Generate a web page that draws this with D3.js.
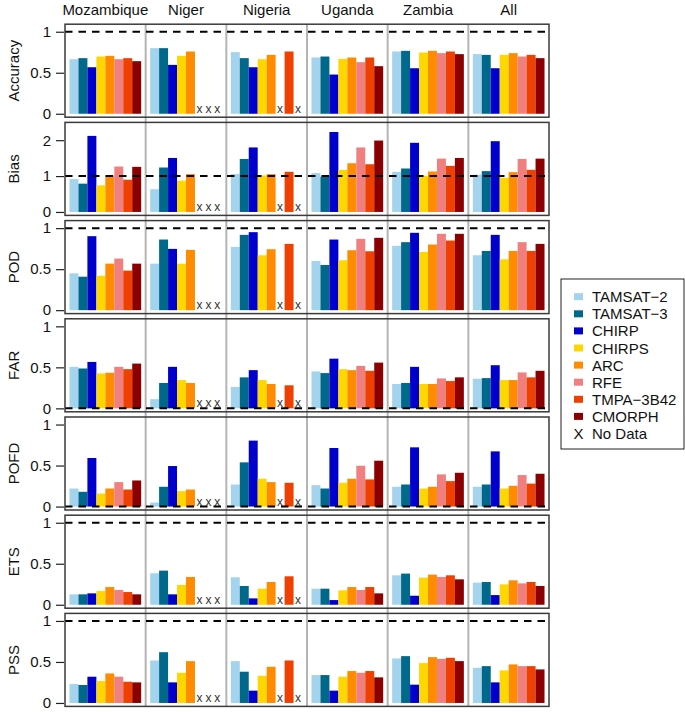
<!DOCTYPE html>
<html>
<head>
<meta charset="utf-8">
<script src="https://cdn.jsdelivr.net/npm/d3@7"></script>
<style>
  html, body { margin: 0; padding: 0; background: #fff; }
  text { font-family: "Liberation Sans", Arial, Helvetica, sans-serif; }
</style>
</head>
<body>
<svg id="chart" width="685" height="714"></svg>
<script>
// ---------------- data ----------------
const countries = ["Mozambique", "Niger", "Nigeria", "Uganda", "Zambia", "All"];
const products = ["TAMSAT−2", "TAMSAT−3", "CHIRP", "CHIRPS", "ARC", "RFE", "TMPA−3B42", "CMORPH"];
const colors = ["#A4D3EE", "#00688B", "#0000CD", "#FFD700", "#FF8C00", "#F08080", "#EE4000", "#8B0000"];
const metrics = ["Accuracy", "Bias", "POD", "FAR", "POFD", "ETS", "PSS"];
const refLines = [1, 1, 1, 0, 0, 1, 1];
const ticksUnit = [0, 0.5, 1];
const ticksBias = [0, 1, 2];

// values per country (rows) x product (cols); null = no data
const accuracy = [
  [0.665, 0.678, 0.567, 0.698, 0.706, 0.665, 0.678, 0.641],
  [0.80, 0.80, 0.596, 0.706, 0.759, null, null, null],
  [0.751, 0.678, 0.567, 0.665, 0.718, null, 0.759, null],
  [0.686, 0.698, 0.478, 0.669, 0.686, 0.629, 0.686, 0.58],
  [0.759, 0.767, 0.555, 0.747, 0.767, 0.739, 0.759, 0.727],
  [0.727, 0.718, 0.555, 0.718, 0.739, 0.698, 0.718, 0.678]
];
const bias = [
  [0.917, 0.789, 2.12, 0.743, 1.018, 1.266, 0.899, 1.257],
  [0.633, 1.239, 1.505, 0.872, 1.055, null, null, null],
  [1.055, 1.477, 1.798, 1.018, 1.055, null, 1.119, null],
  [1.083, 0.982, 2.229, 1.174, 1.358, 1.798, 1.33, 1.99],
  [1.119, 1.211, 1.927, 1.009, 1.128, 1.486, 1.284, 1.505],
  [1.037, 1.138, 1.972, 0.954, 1.11, 1.477, 1.174, 1.486]
];
const pod = [
  [0.449, 0.408, 0.902, 0.42, 0.567, 0.629, 0.482, 0.567],
  [0.567, 0.861, 0.747, 0.567, 0.735, null, null, null],
  [0.771, 0.918, 0.951, 0.669, 0.743, null, 0.808, null],
  [0.60, 0.551, 0.861, 0.608, 0.731, 0.869, 0.718, 0.882],
  [0.784, 0.829, 0.943, 0.71, 0.80, 0.931, 0.849, 0.931],
  [0.669, 0.722, 0.918, 0.62, 0.722, 0.829, 0.722, 0.808]
];
const far = [
  [0.506, 0.486, 0.566, 0.426, 0.434, 0.506, 0.478, 0.546],
  [0.112, 0.309, 0.506, 0.345, 0.309, null, null, null],
  [0.261, 0.378, 0.466, 0.345, 0.297, null, 0.281, null],
  [0.45, 0.43, 0.606, 0.478, 0.466, 0.518, 0.458, 0.558],
  [0.297, 0.309, 0.506, 0.297, 0.297, 0.365, 0.333, 0.378],
  [0.361, 0.369, 0.526, 0.345, 0.345, 0.438, 0.378, 0.458]
];
const pofd = [
  [0.22, 0.18, 0.592, 0.159, 0.22, 0.298, 0.208, 0.318],
  [0.049, 0.241, 0.494, 0.188, 0.208, null, null, null],
  [0.269, 0.539, 0.804, 0.339, 0.298, null, 0.29, null],
  [0.261, 0.22, 0.714, 0.29, 0.339, 0.498, 0.331, 0.559],
  [0.241, 0.269, 0.722, 0.22, 0.241, 0.392, 0.31, 0.412],
  [0.241, 0.269, 0.673, 0.22, 0.253, 0.384, 0.28, 0.40]
];
const ets = [
  [0.127, 0.127, 0.139, 0.167, 0.216, 0.18, 0.155, 0.127],
  [0.384, 0.416, 0.127, 0.241, 0.339, null, null, null],
  [0.335, 0.229, 0.078, 0.196, 0.278, null, 0.347, null],
  [0.196, 0.196, 0.057, 0.176, 0.216, 0.18, 0.216, 0.139],
  [0.359, 0.38, 0.11, 0.331, 0.367, 0.339, 0.359, 0.31],
  [0.269, 0.278, 0.118, 0.249, 0.298, 0.261, 0.278, 0.229]
];
const pss = [
  [0.231, 0.219, 0.32, 0.267, 0.36, 0.32, 0.259, 0.251],
  [0.518, 0.619, 0.251, 0.368, 0.51, null, null, null],
  [0.51, 0.381, 0.15, 0.332, 0.441, null, 0.518, null],
  [0.34, 0.34, 0.15, 0.32, 0.389, 0.368, 0.389, 0.312],
  [0.543, 0.571, 0.223, 0.486, 0.559, 0.538, 0.551, 0.51],
  [0.429, 0.449, 0.251, 0.397, 0.47, 0.449, 0.449, 0.409]
];
const metricData = [accuracy, bias, pod, far, pofd, ets, pss];

// ---------------- layout ----------------
const svg = d3.select("#chart");
const left = 65, right = 549;
const top0 = 24.2, rowStep = 98.2, panelH = 93;

const x0 = d3.scaleBand().domain(countries).range([left, right]).padding(0);
const x1 = d3.scaleBand().domain(products).range([0, x0.bandwidth()])
  .paddingInner(0).paddingOuter(0.5);

// column separators spanning all rows
const lastBottom = top0 + (metrics.length - 1) * rowStep + panelH;
svg.append("g").selectAll("line")
  .data(countries.slice(1))
  .join("line")
  .attr("x1", d => x0(d)).attr("x2", d => x0(d))
  .attr("y1", top0).attr("y2", lastBottom)
  .attr("stroke", "#b4b4b4").attr("stroke-width", 2);

// column titles
svg.append("g").selectAll("text")
  .data(countries)
  .join("text")
  .attr("x", d => x0(d) + x0.bandwidth() / 2)
  .attr("y", 15)
  .attr("text-anchor", "middle")
  .attr("font-size", 15)
  .attr("fill", "#111")
  .text(d => d);

metrics.forEach((m, i) => {
  const t = top0 + i * rowStep;
  const isBias = m === "Bias";
  const y = d3.scaleLinear()
    .domain(isBias ? [-0.096, 2.496] : [-0.042, 1.092])
    .range([t + panelH, t]);
  const g = svg.append("g");

  const data = metricData[i];
  // bars
  countries.forEach((c, ci) => {
    const vals = data[ci];
    const cg = g.append("g").attr("transform", `translate(${x0(c)},0)`);
    cg.selectAll("rect")
      .data(products.map((p, pi) => ({ p, v: vals[pi], col: colors[pi] })).filter(d => d.v !== null))
      .join("rect")
      .attr("x", d => x1(d.p))
      .attr("width", x1.bandwidth())
      .attr("y", d => y(d.v))
      .attr("height", d => y(0) - y(d.v))
      .attr("fill", d => d.col);
    cg.selectAll("text.nd")
      .data(products.map((p, pi) => ({ p, v: vals[pi] })).filter(d => d.v === null))
      .join("text")
      .attr("class", "nd")
      .attr("x", d => x1(d.p) + x1.bandwidth() / 2)
      .attr("y", y(0) - 1)
      .attr("text-anchor", "middle")
      .attr("font-size", 12)
      .attr("fill", "#333")
      .text("x");
  });

  // reference dashed line
  g.append("line")
    .attr("x1", left).attr("x2", right)
    .attr("y1", y(refLines[i])).attr("y2", y(refLines[i]))
    .attr("stroke", "#000").attr("stroke-width", 2)
    .attr("stroke-dasharray", "7.5,6");

  // panel frame
  g.append("rect")
    .attr("x", left).attr("y", t)
    .attr("width", right - left).attr("height", panelH)
    .attr("fill", "none").attr("stroke", "#3a3a3a").attr("stroke-width", 1.5);

  // y axis
  const ax = d3.axisLeft(y)
    .tickValues(isBias ? ticksBias : ticksUnit)
    .tickFormat(d => d3.format("~g")(d))
    .tickSize(8).tickSizeOuter(0).tickPadding(5);
  const axg = g.append("g").attr("transform", `translate(${left - 1},0)`).call(ax);
  axg.select(".domain").remove();
  axg.selectAll(".tick line").attr("stroke", "#222").attr("stroke-width", 1.2);
  axg.selectAll(".tick text").attr("font-size", 15).attr("fill", "#111")
    .attr("font-family", "Liberation Sans, Arial, sans-serif");

  // y label
  g.append("text")
    .attr("transform", `translate(13,${t + panelH / 2}) rotate(-90)`)
    .attr("text-anchor", "middle")
    .attr("dominant-baseline", "central")
    .attr("font-size", 15)
    .attr("fill", "#111")
    .text(m);
});

// ---------------- legend ----------------
const lg = svg.append("g");
lg.append("rect")
  .attr("x", 561).attr("y", 279).attr("width", 123).attr("height", 170)
  .attr("fill", "#fff").attr("stroke", "#222").attr("stroke-width", 1);
const legendItems = products.map((p, i) => ({ label: p, color: colors[i] }))
  .concat([{ label: "No Data", color: null }]);
const ly = d3.scalePoint().domain(legendItems.map(d => d.label))
  .range([296.7, 296.7 + 8 * 17.1]);
lg.selectAll("rect.sw")
  .data(legendItems.filter(d => d.color))
  .join("rect")
  .attr("class", "sw")
  .attr("x", 574).attr("y", d => ly(d.label) - 3.5)
  .attr("width", 9).attr("height", 7)
  .attr("fill", d => d.color);
lg.selectAll("text.xm")
  .data(legendItems.filter(d => !d.color))
  .join("text")
  .attr("class", "xm")
  .attr("x", 578.5).attr("y", d => ly(d.label))
  .attr("text-anchor", "middle")
  .attr("dominant-baseline", "central")
  .attr("font-size", 15).attr("fill", "#111")
  .text("X");
lg.selectAll("text.lb")
  .data(legendItems)
  .join("text")
  .attr("class", "lb")
  .attr("x", 592).attr("y", d => ly(d.label))
  .attr("dominant-baseline", "central")
  .attr("font-size", 15).attr("fill", "#111")
  .text(d => d.label);
</script>
</body>
</html>
